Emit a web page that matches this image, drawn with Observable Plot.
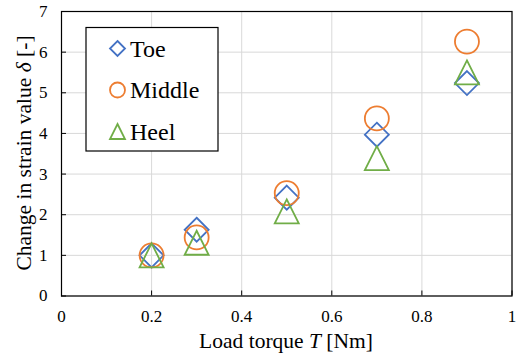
<!DOCTYPE html>
<html>
<head>
<meta charset="utf-8">
<script src="https://cdn.jsdelivr.net/npm/d3@7"></script>
<script src="https://cdn.jsdelivr.net/npm/@observablehq/plot@0.6"></script>
<style>
  html, body { margin: 0; padding: 0; background: #fff; }
</style>
</head>
<body>
<div id="wrap"></div>
<script>
const torque = [0.2, 0.3, 0.5, 0.7, 0.9];
const toe    = [1.00, 1.63, 2.42, 3.97, 5.24];
const middle = [1.00, 1.44, 2.53, 4.37, 6.26];
const heel   = [1.00, 1.31, 2.08, 3.39, 5.50];
const seriesNames = ["Toe", "Middle", "Heel"];
const seriesColors = ["#4472C4", "#ED7D31", "#70AD47"];
const xTicks = [0, 0.2, 0.4, 0.6, 0.8, 1];
const yTicks = [0, 1, 2, 3, 4, 5, 6, 7];

const diamondSym = { draw(ctx, size) { const h = Math.sqrt(size / Math.PI);
  ctx.moveTo(0, -h); ctx.lineTo(h, 0); ctx.lineTo(0, h); ctx.lineTo(-h, 0); ctx.closePath(); } };
const triangleSym = { draw(ctx, size) { const h = Math.sqrt(size / Math.PI);
  ctx.moveTo(0, -h); ctx.lineTo(h, h); ctx.lineTo(-h, h); ctx.closePath(); } };
const circleSym = { draw(ctx, size) { const h = Math.sqrt(size / Math.PI);
  ctx.moveTo(h, 0); ctx.arc(0, 0, h, 0, 2 * Math.PI); } };
const symbols = [diamondSym, circleSym, triangleSym];
const values = [toe, middle, heel];

const data = [];
seriesNames.forEach((s, k) => torque.forEach((t, i) => data.push({series: s, k, x: t, y: values[k][i]})));

const font = "Liberation Serif, Times New Roman, serif";

const chart = Plot.plot({
  width: 522,
  height: 358,
  marginLeft: 61,
  marginRight: 10.5,
  marginTop: 11,
  marginBottom: 62.5,
  style: { fontFamily: "'Liberation Serif', serif", fontSize: "17px", color: "#000", background: "#fff" },
  x: { domain: [0, 1] },
  y: { domain: [0, 7] },
  marks: [
    Plot.gridX(xTicks, { stroke: "#d9d9d9", strokeOpacity: 1, strokeWidth: 1 }),
    Plot.gridY(yTicks, { stroke: "#d9d9d9", strokeOpacity: 1, strokeWidth: 1 }),
    Plot.axisX(xTicks, { tickSize: 0, tickPadding: 13.5, tickFormat: d => String(d), label: null, fontSize: 17, fontFamily: font }),
    Plot.axisY(yTicks, { tickSize: 0, tickPadding: 14, tickFormat: d => String(d), label: null, fontSize: 17, fontFamily: font }),
    Plot.axisX(xTicks, { tickSize: 5, dy: -5, tickFormat: () => "", label: null, stroke: "#000" }),
    Plot.axisY(yTicks, { tickSize: 5, dx: 5, tickFormat: () => "", label: null, stroke: "#000" }),
    ...seriesNames.map((s, k) => Plot.dot(data.filter(d => d.k === k), {
      x: "x", y: "y", r: 12, symbol: () => symbols[k], stroke: seriesColors[k],
      strokeWidth: 1.8, fill: "none"
    })),
    Plot.frame({ stroke: "#000", strokeWidth: 1.2 })
  ]
});

const svg = d3.select(chart);
const xl = svg.append("text")
  .attr("x", 286).attr("y", 348).attr("text-anchor", "middle")
  .attr("font-family", font).attr("font-size", 21.5).attr("fill", "#000");
xl.append("tspan").text("Load torque ");
xl.append("tspan").attr("font-style", "italic").text("T");
xl.append("tspan").text(" [Nm]");
const yl = svg.append("text")
  .attr("transform", "translate(30.5,153) rotate(-90)").attr("text-anchor", "middle")
  .attr("font-family", font).attr("font-size", 21.5).attr("fill", "#000");
yl.append("tspan").text("Change in strain value ");
yl.append("tspan").attr("font-style", "italic").text("δ");
yl.append("tspan").text(" [-]");

// legend inside the SVG
const lg = svg.append("g").attr("transform", "translate(86,27.5)")
  .attr("font-family", font).attr("text-anchor", "start");
lg.append("rect").attr("width", 132).attr("height", 123.5)
  .attr("fill", "#fff").attr("stroke", "#000").attr("stroke-width", 1.2);
seriesNames.forEach((s, k) => {
  const cy = 21 + k * 41.5;
  const p = d3.path(); symbols[k].draw(p, Math.PI * 7.5 * 7.5);
  lg.append("path").attr("transform", `translate(31.5,${cy})`).attr("d", p.toString())
    .attr("fill", "none").attr("stroke", seriesColors[k]).attr("stroke-width", 1.8);
  lg.append("text").attr("x", 44).attr("y", cy + 8).attr("text-anchor", "start")
    .attr("font-family", font).attr("font-size", 24).attr("fill", "#000").text(s);
});

document.getElementById("wrap").appendChild(chart);
</script>
</body>
</html>
